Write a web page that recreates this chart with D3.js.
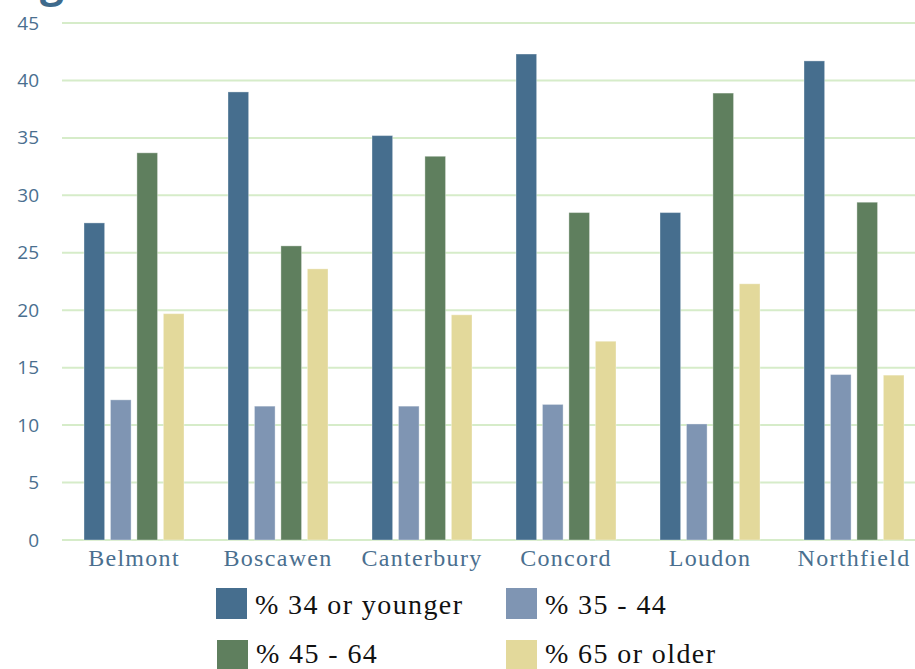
<!DOCTYPE html>
<html>
<head>
<meta charset="utf-8">
<script src="https://cdn.jsdelivr.net/npm/d3@7"></script>
<style>
  body { margin: 0; background: #fff; overflow: hidden; }
  svg { display: block; }
</style>
</head>
<body>
<script>
var towns = ["Belmont", "Boscawen", "Canterbury", "Concord", "Loudon", "Northfield"];
var seriesNames = ["% 34 or younger", "% 35 - 44", "% 45 - 64", "% 65 or older"];
var young = [27.6, 39.0, 35.2, 42.3, 28.5, 41.7];
var mid = [12.2, 11.65, 11.65, 11.8, 10.1, 14.4];
var older = [33.7, 25.6, 33.4, 28.5, 38.9, 29.4];
var senior = [19.7, 23.6, 19.6, 17.3, 22.3, 14.35];
var yTicks = [0, 5, 10, 15, 20, 25, 30, 35, 40, 45];
var colors = ["#466e8e", "#7f95b3", "#5f7f5e", "#e3d99b"];

var seriesValues = [young, mid, older, senior];

var width = 915, height = 669;
var svg = d3.select("body").append("svg")
    .attr("width", width)
    .attr("height", height);

// title is cut off at the top, only the descender shows
svg.append("text")
    .attr("x", 11)
    .attr("y", -3)
    .attr("font-family", "Open Sans, sans-serif")
    .attr("font-weight", "bold")
    .attr("font-size", 42)
    .attr("fill", "#3e6a8c")
    .text("Age");

var x0 = d3.scaleBand()
    .domain(towns)
    .range([62, 926])
    .paddingInner(0)
    .paddingOuter(0);

var x1 = d3.scaleBand()
    .domain(d3.range(4))
    .range([22, 144 - 22])
    .paddingInner(0.22);

var y = d3.scaleLinear()
    .domain([0, 45])
    .range([540, 23]);

// gridlines
svg.append("g")
  .selectAll("line")
  .data(yTicks)
  .join("line")
    .attr("x1", 62)
    .attr("x2", width)
    .attr("y1", function(d) { return y(d); })
    .attr("y2", function(d) { return y(d); })
    .attr("stroke", "#d6ecc9")
    .attr("stroke-width", 2);

// y axis labels
var yAxis = svg.append("g")
    .attr("transform", "translate(39,0)")
    .call(d3.axisLeft(y).tickValues(yTicks).tickSize(0).tickPadding(0));
yAxis.select(".domain").remove();
yAxis.selectAll("text")
    .attr("font-family", "Open Sans, sans-serif")
    .attr("font-size", 19)
    .attr("fill", "#4a6f8f");

// bars
var groups = svg.append("g")
  .selectAll("g")
  .data(towns)
  .join("g")
    .attr("transform", function(d) { return "translate(" + x0(d) + ",0)"; });

groups.selectAll("rect")
  .data(function(d, i) { return seriesValues.map(function(s, k) { return {k: k, v: s[i]}; }); })
  .join("rect")
    .attr("x", function(d) { return x1(d.k); })
    .attr("width", x1.bandwidth())
    .attr("y", function(d) { return y(d.v); })
    .attr("height", function(d) { return y(0) - y(d.v); })
    .attr("fill", function(d) { return colors[d.k]; })
    .attr("stroke", "rgba(255,255,255,0.35)")
    .attr("stroke-width", 1);

// category labels
var xAxis = svg.append("g")
    .attr("transform", "translate(0,540)")
    .call(d3.axisBottom(x0).tickSize(0).tickPadding(0));
xAxis.select(".domain").remove();
xAxis.selectAll("text")
    .attr("dy", 0)
    .attr("y", 26)
    .attr("font-family", "Liberation Serif, serif")
    .attr("font-size", 24)
    .attr("letter-spacing", 1.3)
    .attr("fill", "#4a6f8f");

// legend
var legendPos = [[216, 588], [506, 588], [217, 640], [506, 640]];
var legend = svg.append("g")
  .selectAll("g")
  .data(seriesNames)
  .join("g")
    .attr("transform", function(d, i) { return "translate(" + legendPos[i][0] + "," + legendPos[i][1] + ")"; });

legend.append("rect")
    .attr("width", 31)
    .attr("height", 31)
    .attr("fill", function(d, i) { return colors[i]; });

legend.append("text")
    .attr("x", 39)
    .attr("y", function(d, i) { return i < 2 ? 26 : 23; })
    .attr("font-family", "Liberation Serif, serif")
    .attr("font-size", 28)
    .attr("letter-spacing", 1.4)
    .attr("fill", "#111")
    .text(function(d) { return d; });
</script>
</body>
</html>
